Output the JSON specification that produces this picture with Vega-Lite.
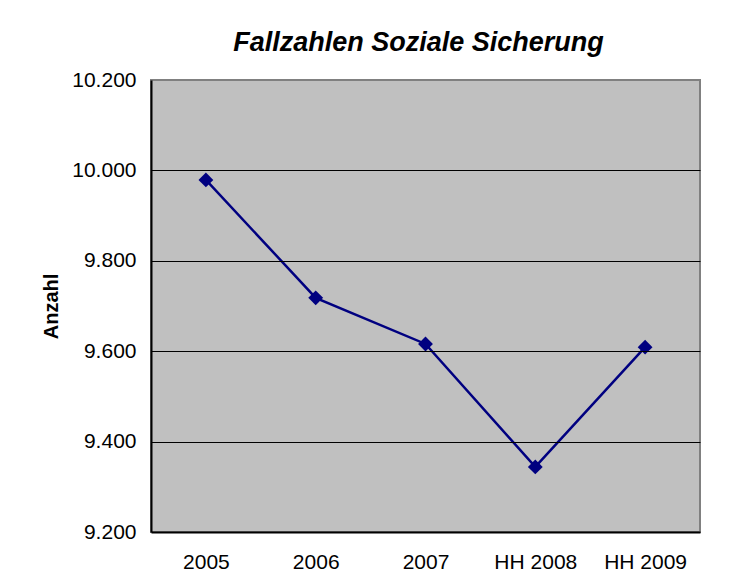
{
  "$schema": "https://vega.github.io/schema/vega-lite/v6.json",
  "width": 549,
  "height": 452,
  "autosize": {"type": "none"},
  "padding": {"left": 151, "top": 80, "right": 31, "bottom": 49},
  "background": "white",
  "config": {
    "locale": {"number": {"decimal": ",", "thousands": ".", "grouping": [3], "currency": ["", " €"]}},
    "font": "Liberation Sans",
    "view": {"fill": "#C0C0C0", "stroke": "#808080", "strokeWidth": 2}
  },
  "title": {
    "text": "Fallzahlen Soziale Sicherung",
    "font": "Liberation Sans",
    "fontSize": 27,
    "fontWeight": "bold",
    "fontStyle": "italic",
    "color": "black",
    "anchor": "middle",
    "baseline": "alphabetic",
    "offset": -9,
    "dx": -7
  },
  "data": {
    "values": [
      {"Jahr": "2005", "Anzahl": 9979},
      {"Jahr": "2006", "Anzahl": 9718},
      {"Jahr": "2007", "Anzahl": 9616},
      {"Jahr": "HH 2008", "Anzahl": 9344},
      {"Jahr": "HH 2009", "Anzahl": 9609}
    ]
  },
  "encoding": {
    "x": {
      "field": "Jahr",
      "type": "ordinal",
      "sort": null,
      "scale": {"type": "point", "padding": 0.5},
      "axis": {
        "title": null,
        "labelAngle": 0,
        "labelFontSize": 21,
        "labelColor": "black",
        "labelPadding": 19,
        "ticks": false,
        "grid": false,
        "domainColor": "black",
        "domainWidth": 2,
        "zindex": 1
      }
    },
    "y": {
      "field": "Anzahl",
      "type": "quantitative",
      "scale": {"domain": [9200, 10200], "nice": false, "zero": false},
      "axis": {
        "title": "Anzahl",
        "titleFontSize": 20,
        "titleFontWeight": "bold",
        "titleColor": "black",
        "titlePadding": 10,
        "values": [9200, 9400, 9600, 9800, 10000, 10200],
        "format": ",d",
        "labelFontSize": 21,
        "labelColor": "black",
        "labelPadding": 15,
        "ticks": false,
        "grid": true,
        "gridColor": {"condition": {"test": "datum.value >= 10200 || datum.value <= 9200", "value": "transparent"}, "value": "black"},
        "gridWidth": 1,
        "gridOpacity": 1,
        "domainColor": "black",
        "domainWidth": 2,
        "zindex": 1
      }
    }
  },
  "layer": [
    {"mark": {"type": "line", "color": "#000080", "strokeWidth": 2.5}},
    {"mark": {"type": "point", "shape": "diamond", "filled": true, "color": "#000080", "opacity": 1, "size": 220}}
  ]
}
